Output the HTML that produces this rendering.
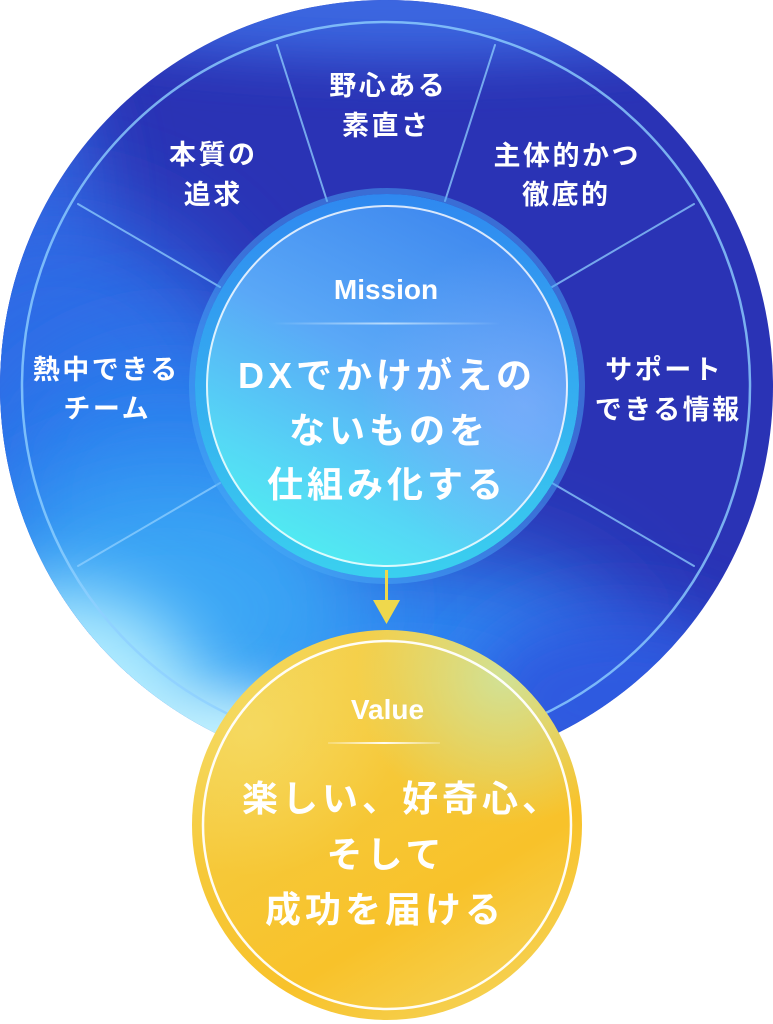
<!DOCTYPE html>
<html><head><meta charset="utf-8">
<style>
html,body{margin:0;padding:0;background:#fff;}
body{width:773px;height:1024px;position:relative;overflow:hidden;}
svg{position:absolute;left:0;top:0;}
.t{position:absolute;color:#fff;font-family:"Liberation Sans","Noto Sans CJK JP",sans-serif;font-weight:700;white-space:nowrap;transform:translateX(-50%);text-align:center;}
.s{font-size:27px;line-height:40px;letter-spacing:2.5px;padding-left:2.5px;}
.m{font-size:36px;line-height:54px;letter-spacing:4px;padding-left:4px;}
.l{font-size:28px;line-height:28px;}
</style></head><body>
<svg width="773" height="1024" viewBox="0 0 773 1024">
<defs>
<filter id="b50" filterUnits="userSpaceOnUse" x="-300" y="-300" width="1400" height="1400"><feGaussianBlur stdDeviation="50"/></filter>
<filter id="b35" filterUnits="userSpaceOnUse" x="-300" y="-300" width="1400" height="1400"><feGaussianBlur stdDeviation="35"/></filter>
<filter id="b25" filterUnits="userSpaceOnUse" x="-300" y="-300" width="1400" height="1400"><feGaussianBlur stdDeviation="25"/></filter>
<linearGradient id="band" x1="0" y1="0" x2="0" y2="1">
<stop offset="0" stop-color="#2f88f0"/>
<stop offset="1" stop-color="#3ad0ef"/>
</linearGradient>
<linearGradient id="mg" x1="0.75" y1="0" x2="0.25" y2="1">
<stop offset="0" stop-color="#3d86ee"/>
<stop offset="0.45" stop-color="#5aa8f7"/>
<stop offset="0.8" stop-color="#55d8f5"/>
<stop offset="1" stop-color="#4ff0f0"/>
</linearGradient>
<radialGradient id="mt" cx="0.88" cy="0.55" r="0.45">
<stop offset="0" stop-color="#a0b8ff" stop-opacity="0.4"/>
<stop offset="1" stop-color="#a0b8ff" stop-opacity="0"/>
</radialGradient>
<linearGradient id="yg" x1="0.2" y1="0" x2="0.8" y2="1">
<stop offset="0" stop-color="#f4d250"/>
<stop offset="0.4" stop-color="#f6c838"/>
<stop offset="0.7" stop-color="#f8c22a"/>
<stop offset="1" stop-color="#f5d358"/>
</linearGradient>
<radialGradient id="ygr" cx="0.8" cy="0.12" r="0.38">
<stop offset="0" stop-color="#cde4a0" stop-opacity="0.9"/>
<stop offset="1" stop-color="#cde4a0" stop-opacity="0"/>
</radialGradient>
<radialGradient id="ygl" cx="0.15" cy="0.25" r="0.38">
<stop offset="0" stop-color="#f5e070" stop-opacity="0.6"/>
<stop offset="1" stop-color="#f5e070" stop-opacity="0"/>
</radialGradient>
<linearGradient id="md" x1="0" y1="0" x2="1" y2="0">
<stop offset="0" stop-color="#d2ebff" stop-opacity="0"/>
<stop offset="0.5" stop-color="#d2ebff" stop-opacity="0.8"/>
<stop offset="1" stop-color="#d2ebff" stop-opacity="0"/>
</linearGradient>
<linearGradient id="vd" x1="0" y1="0" x2="1" y2="0">
<stop offset="0" stop-color="#ffffff" stop-opacity="0.2"/>
<stop offset="0.5" stop-color="#ffffff" stop-opacity="0.95"/>
<stop offset="1" stop-color="#ffffff" stop-opacity="0.2"/>
</linearGradient>
<clipPath id="bc"><circle cx="386.5" cy="386.5" r="386.5"/></clipPath>
</defs>

<!-- big circle -->
<g clip-path="url(#bc)">
<rect x="0" y="0" width="773" height="773" fill="#2a33b5"/>
<ellipse cx="420" cy="-10" rx="430" ry="70" fill="#3a66e0" filter="url(#b25)"/>
<ellipse cx="10" cy="220" rx="90" ry="200" fill="#3260dc" filter="url(#b35)"/>
<ellipse cx="60" cy="430" rx="200" ry="220" fill="#2d6ce6" filter="url(#b50)"/>
<ellipse cx="170" cy="500" rx="170" ry="150" fill="#2b80ee" filter="url(#b50)"/>
<ellipse cx="400" cy="660" rx="230" ry="110" fill="#2f86f2" filter="url(#b50)"/>
<ellipse cx="620" cy="700" rx="150" ry="90" fill="#2f5ae0" filter="url(#b35)"/>
<ellipse cx="170" cy="610" rx="190" ry="140" fill="#3aa6f5" filter="url(#b50)"/>
<ellipse cx="60" cy="700" rx="140" ry="110" fill="#b0ecff" filter="url(#b35)"/>
<ellipse cx="220" cy="740" rx="120" ry="50" fill="#c0f2ff" filter="url(#b25)"/>
</g>
<circle cx="386" cy="386" r="364" fill="none" stroke="#8fd0ff" stroke-opacity="0.8" stroke-width="2.5"/>

<!-- spokes -->
<g stroke="#8fcfff" stroke-opacity="0.75" stroke-width="2" stroke-linecap="round">
<line x1="327" y1="201" x2="277" y2="45"/>
<line x1="445" y1="201" x2="495" y2="45"/>
<line x1="220" y1="287" x2="78" y2="204"/>
<line x1="552" y1="287" x2="694" y2="204"/>
<line x1="220" y1="483" x2="78" y2="566"/>
<line x1="552" y1="483" x2="694" y2="566"/>
</g>

<!-- mission circle -->
<circle cx="387" cy="386" r="195" fill="none" stroke="#4aa8f6" stroke-opacity="0.5" stroke-width="6"/>
<circle cx="387" cy="386" r="192" fill="url(#band)"/>
<circle cx="387" cy="386" r="181" fill="url(#mg)"/>
<circle cx="387" cy="386" r="181" fill="url(#mt)"/>
<circle cx="387" cy="386" r="180" fill="none" stroke="#ffffff" stroke-opacity="0.8" stroke-width="2"/>
<rect x="272" y="322.5" width="228" height="2" fill="url(#md)"/>

<!-- arrow -->
<line x1="386.5" y1="570" x2="386.5" y2="602" stroke="#efd84c" stroke-width="3"/>
<polygon points="373,600 400,600 386.5,624" fill="#efd84c"/>

<!-- value circle -->
<circle cx="387" cy="825" r="195" fill="url(#yg)"/>
<circle cx="387" cy="825" r="195" fill="url(#ygl)"/>
<circle cx="387" cy="825" r="195" fill="url(#ygr)"/>
<circle cx="387" cy="825" r="184" fill="none" stroke="#ffffff" stroke-opacity="0.95" stroke-width="2.5"/>
<rect x="328" y="742" width="112" height="2" fill="url(#vd)"/>
</svg>

<!-- outer labels -->
<div class="t s" style="left:387px;top:66px;">野心ある</div>
<div class="t s" style="left:385px;top:106px;">素直さ</div>
<div class="t s" style="left:212px;top:135px;">本質の</div>
<div class="t s" style="left:212px;top:175px;">追求</div>
<div class="t s" style="left:566px;top:136px;">主体的かつ</div>
<div class="t s" style="left:565px;top:175px;">徹底的</div>
<div class="t s" style="left:105px;top:350px;">熱中できる</div>
<div class="t s" style="left:106px;top:389px;">チーム</div>
<div class="t s" style="left:663px;top:350px;">サポート</div>
<div class="t s" style="left:667px;top:390px;">できる情報</div>

<!-- mission -->
<div class="t l" style="left:386px;top:276px;">Mission</div>
<div class="t m" style="left:385px;top:349px;">DXでかけがえの</div>
<div class="t m" style="left:387px;top:404px;">ないものを</div>
<div class="t m" style="left:385px;top:458px;">仕組み化する</div>

<!-- value -->
<div class="t l" style="left:387.5px;top:696px;">Value</div>
<div class="t m" style="left:400px;top:772px;">楽しい、好奇心、</div>
<div class="t m" style="left:384px;top:828px;">そして</div>
<div class="t m" style="left:383px;top:883px;">成功を届ける</div>
</body></html>
